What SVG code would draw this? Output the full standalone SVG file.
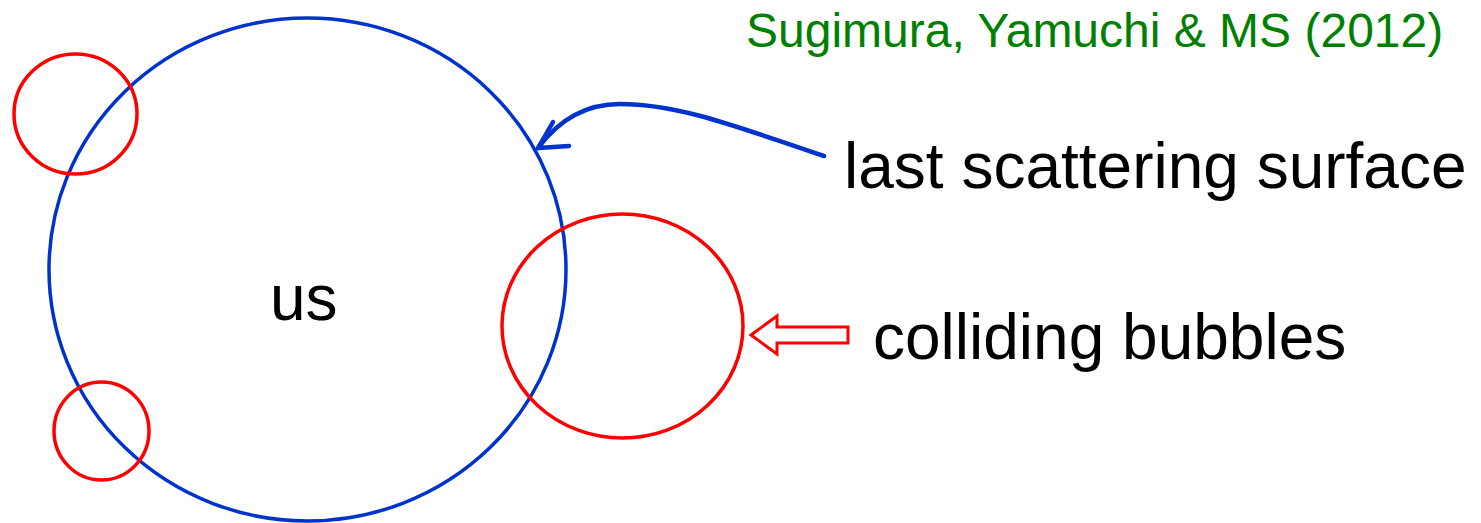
<svg xmlns="http://www.w3.org/2000/svg" width="1481" height="523" viewBox="0 0 1481 523">
<style>
.blue{fill:none;stroke:#0033cc;stroke-width:3.5}
.red{fill:none;stroke:#ff0000;stroke-width:3.5}
.lbl{font-family:"Liberation Sans",Arial,sans-serif;font-size:64px;fill:#000}
.cite{font-family:"Liberation Sans",Arial,sans-serif;font-size:48px;fill:#008000}
</style>
<rect width="1481" height="523" fill="#fff"/>
<g id="lss"><ellipse class="blue" cx="307.5" cy="269.5" rx="258.5" ry="251.5"/></g>
<g id="bubble-topleft"><ellipse class="red" cx="75.5" cy="114" rx="61.5" ry="60"/></g>
<g id="bubble-bottomleft"><ellipse class="red" cx="101.5" cy="431" rx="47.5" ry="49"/></g>
<g id="bubble-right"><ellipse class="red" cx="622.5" cy="326" rx="120.5" ry="112"/></g>
<g id="label-us"><text class="lbl" x="270" y="320">us</text></g>
<g id="label-lss"><text class="lbl" x="844" y="188">last scattering surface</text></g>
<g id="label-bubbles"><text class="lbl" x="873" y="359">colliding bubbles</text></g>
<g id="citation"><text class="cite" x="746" y="47">Sugimura, Yamuchi &amp; MS (2012)</text></g>
<g id="connectors">
<path d="M824,156 C740,128 680,104 620,104 C580,104 555,125 538,148" fill="none" stroke="#0033cc" stroke-width="4.5" stroke-linecap="round"/>
<path d="M553,122 L538,148 L569,146" fill="none" stroke="#0033cc" stroke-width="4.5" stroke-linecap="round" stroke-linejoin="round"/>
<path d="M751,335 L777,316 L777,327 L848,327 L848,343 L777,343 L777,354 Z" fill="#fff" stroke="#ff0000" stroke-width="3"/>
</g>
</svg>
